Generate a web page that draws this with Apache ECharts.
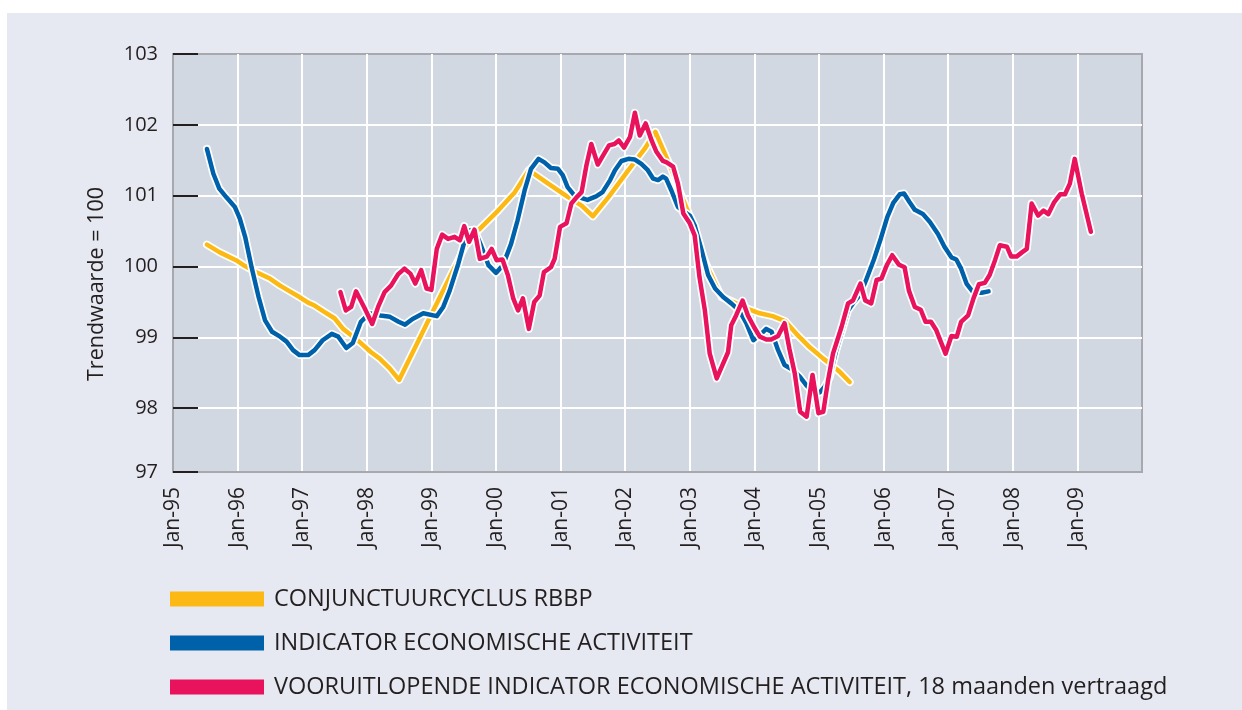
<!DOCTYPE html>
<html>
<head>
<meta charset="utf-8">
<script src="https://cdn.jsdelivr.net/npm/echarts@6/dist/echarts.min.js"></script>
<style>
  html, body { margin: 0; padding: 0; background: #fff; }
  #panel { position: absolute; left: 7px; top: 13px; width: 1235px; height: 697px; background: #e6e9f1; }
  #chart { position: absolute; left: 0; top: 0; width: 1242px; height: 710px; }
</style>
</head>
<body>
<div id="panel"></div>
<div id="chart"></div>
<script>
// x = months since Jan-95, y = trend value (trend = 100)
const xTickLabels = ["Jan-95", "Jan-96", "Jan-97", "Jan-98", "Jan-99", "Jan-00", "Jan-01", "Jan-02",
  "Jan-03", "Jan-04", "Jan-05", "Jan-06", "Jan-07", "Jan-08", "Jan-09"];
const yTickValues = [97.1, 98, 99, 100, 101, 102, 103];

const seriesNames = [
  "CONJUNCTUURCYCLUS RBBP",
  "INDICATOR ECONOMISCHE ACTIVITEIT",
  "VOORUITLOPENDE INDICATOR ECONOMISCHE ACTIVITEIT, 18 maanden vertraagd"
];

const cycleRBBP = [
  [6.3, 100.31], [8.7, 100.2], [11.7, 100.09], [13.3, 100.01], [15.5, 99.92], [18, 99.83], [19.9, 99.73],
  [21.7, 99.65], [23.5, 99.57], [25.1, 99.49], [26.3, 99.45], [28.1, 99.36], [30, 99.27], [31.6, 99.12],
  [33.1, 99.03], [34.9, 98.92], [36.8, 98.79], [38.4, 98.7], [40.3, 98.56], [42, 98.4], [48.1, 99.34],
  [54.2, 100.28], [56.7, 100.51], [60.4, 100.79], [63.5, 101.05], [66.1, 101.36], [69.7, 101.17],
  [73.4, 100.98], [75.9, 100.86], [78, 100.71], [80.9, 100.98], [84.6, 101.36], [87.6, 101.66],
  [89.6, 101.9], [92.2, 101.45], [94.1, 101.07], [95.6, 100.79], [97.2, 100.42], [99, 100.04],
  [100.7, 99.76], [101.9, 99.57], [104.1, 99.5], [106.5, 99.41], [109, 99.34], [111.4, 99.3],
  [113.7, 99.23], [115.8, 99.05], [118.3, 98.86], [120.8, 98.7], [122, 98.63], [123.9, 98.51], [125.7, 98.37]
];

const activityIndex = [
  [6.3, 101.66], [7.5, 101.31], [8.6, 101.1], [10, 100.97], [11.5, 100.84], [12.4, 100.68], [13.4, 100.42],
  [14.6, 99.99], [15.9, 99.57], [17.1, 99.24], [18.4, 99.08], [19.9, 99.01], [21.1, 98.94], [22.3, 98.82],
  [23.5, 98.75], [25.1, 98.75], [26.3, 98.82], [27.8, 98.96], [29.5, 99.05], [30.7, 99.01], [32.2, 98.85],
  [33.4, 98.92], [34.9, 99.22], [36.5, 99.34], [38.5, 99.31], [40.3, 99.29], [41.9, 99.22], [43.1, 99.18],
  [44.5, 99.26], [46.5, 99.34], [49, 99.3], [50.2, 99.43], [51.4, 99.66], [53, 100.04], [54.2, 100.37],
  [54.9, 100.51], [56, 100.52], [57.3, 100.28], [58.6, 100.02], [60, 99.91], [61.3, 100.02], [62.8, 100.32],
  [64, 100.65], [65.3, 101.07], [66.5, 101.38], [67.9, 101.52], [69, 101.47], [70.2, 101.39], [71.5, 101.38],
  [72.4, 101.29], [73.3, 101.12], [74.6, 101], [75.8, 100.97], [77, 100.94], [78.6, 100.99], [79.8, 101.05],
  [81.2, 101.22], [82.1, 101.36], [83.3, 101.49], [84.6, 101.52], [85.8, 101.51], [87, 101.45], [88.2, 101.36],
  [89.2, 101.24], [90.1, 101.22], [91, 101.27], [91.6, 101.24], [92.6, 101.07], [93.8, 100.84], [95, 100.77],
  [96, 100.72], [96.9, 100.58], [98.2, 100.23], [99.4, 99.88], [100.7, 99.69], [102.2, 99.57], [103.7, 99.48],
  [105.2, 99.38], [106.5, 99.2], [107.8, 98.96], [109, 99.03], [110.2, 99.12], [111.2, 99.08], [112.4, 98.82],
  [113.6, 98.61], [115.2, 98.54], [116.5, 98.44], [117.7, 98.32], [118.9, 98.23], [120.1, 98.22], [121, 98.3],
  [122, 98.44], [123.2, 98.82], [124.5, 99.15], [125.4, 99.38], [126.3, 99.48], [127.6, 99.6], [128.7, 99.8],
  [130.2, 100.1], [131.5, 100.4], [132.7, 100.7], [133.8, 100.9], [135, 101.02], [135.8, 101.03],
  [136.8, 100.91], [137.8, 100.8], [139.3, 100.74], [140.6, 100.63], [142.1, 100.46], [143.3, 100.28],
  [144.6, 100.13], [145.5, 100.1], [146.4, 99.97], [147.4, 99.76], [148.7, 99.63], [150.2, 99.63], [151.5, 99.65]
];

const leadingIndex = [
  [31.1, 99.64], [32.1, 99.38], [33.1, 99.43], [34, 99.65], [35.6, 99.41], [37, 99.19], [38.1, 99.43],
  [39.3, 99.64], [40.5, 99.73], [41.8, 99.89], [43, 99.97], [44.1, 99.9], [45, 99.76], [46.1, 99.95],
  [47.1, 99.69], [48, 99.67], [49, 100.25], [50, 100.45], [51.1, 100.39], [52.3, 100.42], [53.3, 100.37],
  [54.1, 100.57], [55, 100.35], [56, 100.52], [57, 100.11], [58.3, 100.14], [59.2, 100.25], [60.1, 100.09],
  [61.2, 100.1], [62.2, 99.88], [63.2, 99.55], [64.1, 99.38], [65, 99.55], [66.1, 99.12], [67.1, 99.5],
  [68.1, 99.59], [68.9, 99.92], [70.2, 99.99], [70.9, 100.11], [71.9, 100.56], [73.1, 100.61], [74, 100.89],
  [75, 100.98], [75.9, 101.05], [76.8, 101.43], [77.7, 101.73], [78.9, 101.44], [79.9, 101.57], [81, 101.71],
  [82, 101.73], [82.8, 101.78], [83.8, 101.68], [84.9, 101.83], [85.8, 102.17], [86.7, 101.85], [87.8, 102.02],
  [88.9, 101.78], [89.8, 101.62], [91, 101.49], [91.7, 101.47], [92.9, 101.41], [93.8, 101.17], [94.8, 100.75],
  [96, 100.61], [96.9, 100.44], [97.8, 99.85], [98.8, 99.38], [99.7, 98.77], [101, 98.42], [101.9, 98.58],
  [103.1, 98.79], [103.7, 99.17], [104.6, 99.31], [105.8, 99.52], [106.8, 99.31], [107.9, 99.15], [109, 99.01],
  [110.2, 98.97], [111.1, 98.97], [112.4, 99.02], [113.6, 99.2], [114.5, 98.84], [115.5, 98.49], [116.5, 97.95],
  [117.7, 97.88], [118.8, 98.47], [119.9, 97.93], [120.8, 97.95], [121.7, 98.4], [122.6, 98.77], [124.2, 99.15],
  [125.4, 99.48], [126.3, 99.52], [127.7, 99.76], [128.6, 99.52], [129.7, 99.48], [130.7, 99.81], [131.6, 99.83],
  [132.6, 100.02], [133.6, 100.16], [134.8, 100.03], [135.9, 99.99], [136.7, 99.66], [137.8, 99.43],
  [138.9, 99.39], [139.8, 99.22], [140.8, 99.22], [141.8, 99.1], [143.5, 98.77], [144.6, 99.02], [145.6, 99.01],
  [146.4, 99.22], [147.7, 99.31], [148.7, 99.55], [149.7, 99.75], [150.8, 99.77], [151.7, 99.88], [152.7, 100.09],
  [153.6, 100.3], [154.9, 100.28], [155.7, 100.14], [156.7, 100.14], [157.7, 100.2], [158.6, 100.25],
  [159.5, 100.89], [160.7, 100.72], [161.7, 100.79], [162.6, 100.74], [163.7, 100.91], [164.8, 101.02],
  [165.7, 101.02], [166.6, 101.17], [167.5, 101.52], [168.8, 101.03], [170.5, 100.49]
];

const colors = ["#fdb913", "#0061ab", "#e9125c"];
const FONT = "'Open Sans', 'Noto Sans', sans-serif";
const TEXT = "#231f20";

const chart = echarts.init(document.getElementById("chart"));

// each line gets a white halo drawn just under it
function lineWithHalo(name, data, color) {
  const base = {
    type: "line",
    data: data,
    showSymbol: false,
    symbol: "none",
    silent: true,
    animation: false
  };
  return [
    Object.assign({}, base, {
      name: name + " halo",
      lineStyle: { color: "#fff", width: 8, cap: "round", join: "round" }
    }),
    Object.assign({}, base, {
      name: name,
      itemStyle: { color: color },
      lineStyle: { color: color, width: 4.5, cap: "round", join: "round" }
    })
  ];
}

// one legend per row so the rows stack like in the print
const legendRows = seriesNames.map((name, i) => ({
  data: [name],
  left: 165,
  top: 582 + i * 44,
  icon: "rect",
  itemWidth: 94,
  itemHeight: 15,
  selectedMode: false,
  textStyle: { fontSize: 23.5, color: TEXT, fontFamily: FONT, padding: [0, 0, 0, 5] }
}));

const option = {
  backgroundColor: "transparent",
  animation: false,
  textStyle: { fontFamily: FONT },
  grid: {
    left: 173, right: 100, top: 54, bottom: 238,
    show: true,
    backgroundColor: "#d1d8e2",
    borderColor: "#a7a9ae",
    borderWidth: 2
  },
  legend: legendRows,
  graphic: [{
    type: "text",
    x: 97,
    y: 284,
    rotation: Math.PI / 2,
    style: {
      text: "Trendwaarde = 100",
      fontSize: 21.5,
      fontFamily: FONT,
      fill: TEXT,
      align: "center",
      verticalAlign: "middle"
    }
  }],
  xAxis: {
    type: "value",
    min: 0,
    max: 180,
    interval: 12,
    axisLine: { show: true, lineStyle: { color: "#a7a9ae", width: 2 } },
    axisTick: { show: false },
    axisLabel: {
      rotate: 90,
      margin: 15,
      fontSize: 21,
      color: TEXT,
      fontFamily: FONT,
      showMaxLabel: false,
      formatter: (v) => xTickLabels[Math.round(v / 12)] || ""
    },
    splitLine: { show: true, showMinLine: false, showMaxLine: false, lineStyle: { color: "#fff", width: 2 } }
  },
  yAxis: {
    type: "value",
    min: yTickValues[0],
    max: yTickValues[yTickValues.length - 1],
    axisLine: { show: true, lineStyle: { color: "#a7a9ae", width: 2 } },
    axisTick: { show: true, inside: true, length: 25, customValues: yTickValues, lineStyle: { color: TEXT, width: 2 } },
    axisLabel: {
      customValues: yTickValues,
      margin: 15,
      fontSize: 20,
      color: TEXT,
      fontFamily: FONT,
      formatter: (v) => String(Math.round(v))
    },
    splitLine: { show: true, showMinLine: false, showMaxLine: false, lineStyle: { color: "#fff", width: 2 } }
  },
  series: [
    ...lineWithHalo(seriesNames[0], cycleRBBP, colors[0]),
    ...lineWithHalo(seriesNames[1], activityIndex, colors[1]),
    ...lineWithHalo(seriesNames[2], leadingIndex, colors[2])
  ]
};

chart.setOption(option);
</script>
</body>
</html>
